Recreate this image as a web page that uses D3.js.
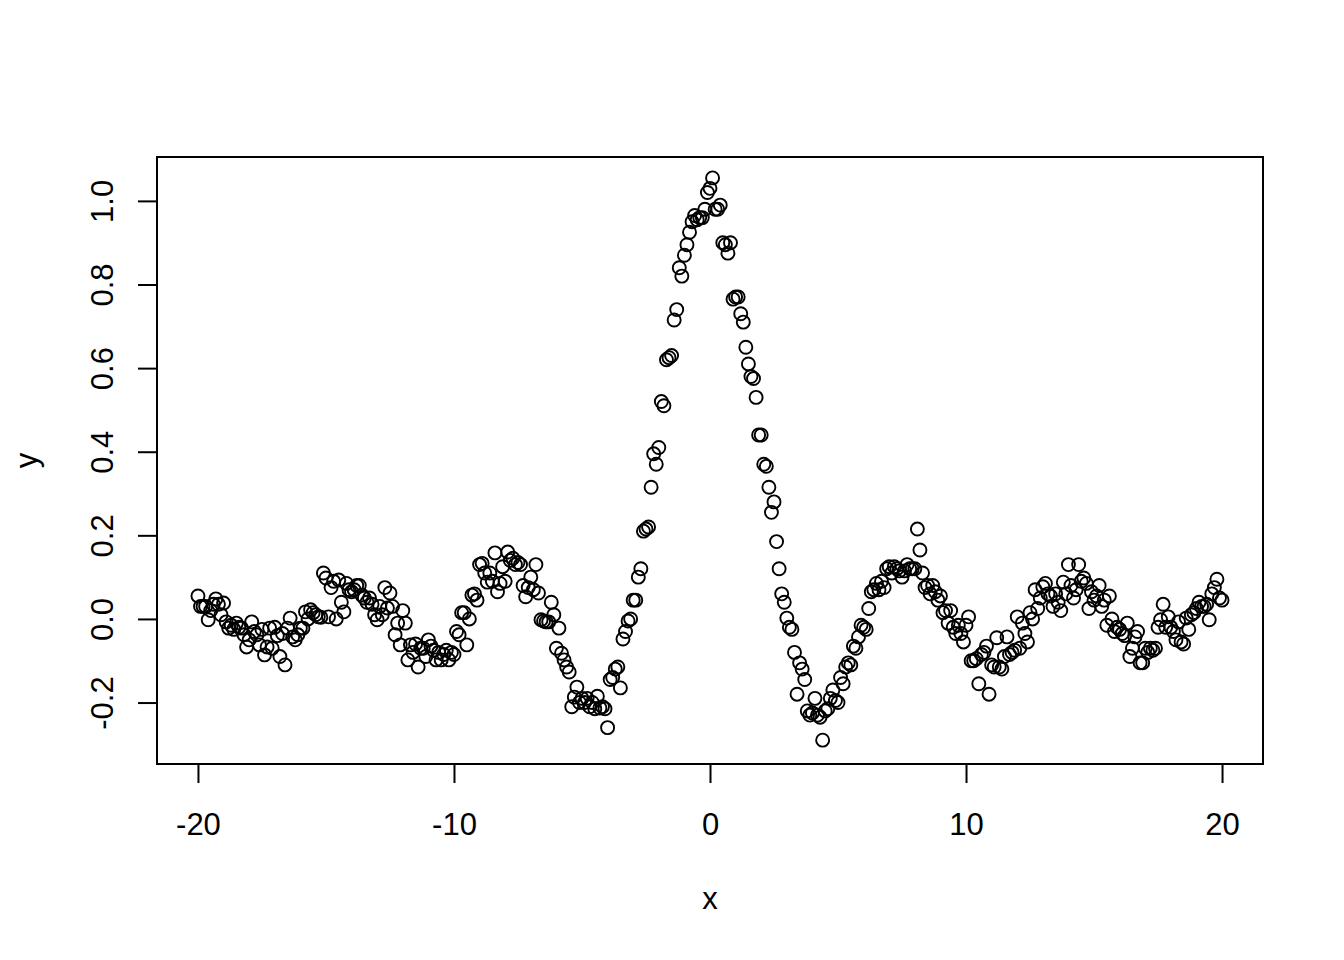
<!DOCTYPE html>
<html><head><meta charset="utf-8">
<script src="https://cdn.jsdelivr.net/npm/d3@7"></script>
<style>body{margin:0;background:#fff}svg{display:block}</style>
</head><body>
<svg id="c" width="1344" height="960"></svg>
<script>
const xs = [
-20,-19.9,-19.8,-19.7,-19.6,-19.5,-19.4,-19.3,-19.2,-19.1,
-19,-18.9,-18.8,-18.7,-18.6,-18.5,-18.4,-18.3,-18.2,-18.1,
-18,-17.9,-17.8,-17.7,-17.6,-17.5,-17.4,-17.3,-17.2,-17.1,
-17,-16.9,-16.8,-16.7,-16.6,-16.5,-16.4,-16.3,-16.2,-16.1,
-16,-15.9,-15.8,-15.7,-15.6,-15.5,-15.4,-15.3,-15.2,-15.1,
-15,-14.9,-14.8,-14.7,-14.6,-14.5,-14.4,-14.3,-14.2,-14.1,
-14,-13.9,-13.8,-13.7,-13.6,-13.5,-13.4,-13.3,-13.2,-13.1,
-13,-12.9,-12.8,-12.7,-12.6,-12.5,-12.4,-12.3,-12.2,-12.1,
-12,-11.9,-11.8,-11.7,-11.6,-11.5,-11.4,-11.3,-11.2,-11.1,
-11,-10.9,-10.8,-10.7,-10.6,-10.5,-10.4,-10.3,-10.2,-10.1,
-10,-9.9,-9.8,-9.7,-9.6,-9.5,-9.4,-9.3,-9.2,-9.1,
-9,-8.9,-8.8,-8.7,-8.6,-8.5,-8.4,-8.3,-8.2,-8.1,
-8,-7.9,-7.8,-7.7,-7.6,-7.5,-7.4,-7.3,-7.2,-7.1,
-7,-6.9,-6.8,-6.7,-6.6,-6.5,-6.4,-6.3,-6.2,-6.1,
-6,-5.9,-5.8,-5.7,-5.6,-5.5,-5.4,-5.3,-5.2,-5.1,
-5,-4.9,-4.8,-4.7,-4.6,-4.5,-4.4,-4.3,-4.2,-4.1,
-4,-3.9,-3.8,-3.7,-3.6,-3.5,-3.4,-3.3,-3.2,-3.1,
-3,-2.9,-2.8,-2.7,-2.6,-2.5,-2.4,-2.3,-2.2,-2.1,
-2,-1.9,-1.8,-1.7,-1.6,-1.5,-1.4,-1.3,-1.2,-1.1,
-1,-0.9,-0.8,-0.7,-0.6,-0.5,-0.4,-0.3,-0.2,-0.1,
0,0.1,0.2,0.3,0.4,0.5,0.6,0.7,0.8,0.9,
1,1.1,1.2,1.3,1.4,1.5,1.6,1.7,1.8,1.9,
2,2.1,2.2,2.3,2.4,2.5,2.6,2.7,2.8,2.9,
3,3.1,3.2,3.3,3.4,3.5,3.6,3.7,3.8,3.9,
4,4.1,4.2,4.3,4.4,4.5,4.6,4.7,4.8,4.9,
5,5.1,5.2,5.3,5.4,5.5,5.6,5.7,5.8,5.9,
6,6.1,6.2,6.3,6.4,6.5,6.6,6.7,6.8,6.9,
7,7.1,7.2,7.3,7.4,7.5,7.6,7.7,7.8,7.9,
8,8.1,8.2,8.3,8.4,8.5,8.6,8.7,8.8,8.9,
9,9.1,9.2,9.3,9.4,9.5,9.6,9.7,9.8,9.9,
10,10.1,10.2,10.3,10.4,10.5,10.6,10.7,10.8,10.9,
11,11.1,11.2,11.3,11.4,11.5,11.6,11.7,11.8,11.9,
12,12.1,12.2,12.3,12.4,12.5,12.6,12.7,12.8,12.9,
13,13.1,13.2,13.3,13.4,13.5,13.6,13.7,13.8,13.9,
14,14.1,14.2,14.3,14.4,14.5,14.6,14.7,14.8,14.9,
15,15.1,15.2,15.3,15.4,15.5,15.6,15.7,15.8,15.9,
16,16.1,16.2,16.3,16.4,16.5,16.6,16.7,16.8,16.9,
17,17.1,17.2,17.3,17.4,17.5,17.6,17.7,17.8,17.9,
18,18.1,18.2,18.3,18.4,18.5,18.6,18.7,18.8,18.9,
19,19.1,19.2,19.3,19.4,19.5,19.6,19.7,19.8,19.9,
20
];
const ys = [
0.055,0.03,0.03,0.03,-0.002,0.02,0.035,0.048,0.035,0.01,
0.038,-0.007,-0.022,-0.015,-0.025,-0.01,-0.02,-0.022,-0.038,-0.067,
-0.05,-0.007,-0.03,-0.038,-0.062,-0.025,-0.086,-0.067,-0.022,-0.07,
-0.02,-0.04,-0.09,-0.035,-0.11,-0.022,0.002,-0.043,-0.05,-0.038,
-0.022,-0.022,0.017,0.0,0.022,0.015,0.01,0.005,0.004,0.11,
0.098,0.005,0.075,0.09,0.0,0.093,0.04,0.017,0.085,0.07,
0.065,0.07,0.08,0.08,0.057,0.05,0.04,0.05,0.035,0.01,
-0.002,0.03,0.01,0.075,0.026,0.062,0.03,-0.038,-0.01,-0.062,
0.02,-0.01,-0.098,-0.062,-0.08,-0.06,-0.115,-0.07,-0.07,-0.09,
-0.05,-0.065,-0.075,-0.098,-0.08,-0.098,-0.085,-0.075,-0.098,-0.08,
-0.085,-0.03,-0.038,0.015,0.015,-0.062,0.0,0.057,0.06,0.045,
0.13,0.133,0.11,0.088,0.11,0.09,0.158,0.065,0.085,0.125,
0.09,0.16,0.14,0.145,0.13,0.135,0.13,0.08,0.053,0.075,
0.1,0.07,0.13,0.062,-0.002,-0.005,-0.007,-0.007,0.04,0.01,
-0.07,-0.022,-0.082,-0.098,-0.115,-0.127,-0.21,-0.187,-0.163,-0.2,
-0.19,-0.2,-0.19,-0.21,-0.2,-0.215,-0.185,-0.213,-0.21,-0.215,
-0.26,-0.145,-0.14,-0.12,-0.115,-0.165,-0.048,-0.03,-0.005,0.0,
0.045,0.045,0.1,0.12,0.21,0.215,0.22,0.315,0.395,0.37,
0.41,0.52,0.51,0.62,0.625,0.63,0.715,0.74,0.84,0.82,
0.87,0.895,0.925,0.95,0.965,0.955,0.96,0.96,0.98,1.02,
1.03,1.055,0.98,0.98,0.99,0.9,0.895,0.875,0.9,0.765,
0.77,0.77,0.73,0.71,0.65,0.61,0.58,0.575,0.53,0.44,
0.44,0.37,0.365,0.315,0.255,0.28,0.185,0.12,0.06,0.04,
0.002,-0.02,-0.025,-0.08,-0.18,-0.105,-0.12,-0.145,-0.22,-0.23,
-0.225,-0.19,-0.23,-0.235,-0.29,-0.22,-0.215,-0.19,-0.17,-0.195,
-0.2,-0.14,-0.155,-0.115,-0.105,-0.11,-0.065,-0.07,-0.043,-0.015,
-0.02,-0.025,0.025,0.065,0.07,0.085,0.07,0.09,0.075,0.12,
0.125,0.11,0.125,0.12,0.115,0.1,0.115,0.13,0.12,0.12,
0.12,0.215,0.165,0.11,0.075,0.08,0.06,0.08,0.065,0.045,
0.055,0.015,0.02,-0.01,0.02,-0.02,-0.035,-0.015,-0.035,-0.055,
-0.015,0.005,-0.1,-0.1,-0.095,-0.155,-0.085,-0.08,-0.065,-0.18,
-0.11,-0.115,-0.045,-0.115,-0.12,-0.09,-0.043,-0.085,-0.08,-0.075,
0.005,-0.07,-0.01,-0.035,-0.055,0.015,0.0,0.07,0.025,0.05,
0.077,0.085,0.06,0.055,0.03,0.06,0.04,0.02,0.088,0.06,
0.13,0.08,0.05,0.07,0.13,0.09,0.098,0.085,0.025,0.065,
0.045,0.055,0.08,0.03,0.045,-0.015,0.055,0.0,-0.03,-0.02,
-0.025,-0.035,-0.04,-0.01,-0.09,-0.07,-0.043,-0.03,-0.105,-0.105,
-0.07,-0.08,-0.07,-0.075,-0.07,-0.02,-0.002,0.035,-0.02,0.005,
-0.02,-0.03,-0.05,-0.007,-0.055,-0.06,0.002,-0.025,0.01,0.015,
0.025,0.04,0.03,0.03,0.035,-0.002,0.06,0.075,0.095,0.05,
0.045
];
const xTicks = [-20, -10, 0, 10, 20];
const xTickLabels = ["-20", "-10", "0", "10", "20"];
const yTicks = [-0.2, 0, 0.2, 0.4, 0.6, 0.8, 1.0];
const yTickLabels = ["-0.2", "0.0", "0.2", "0.4", "0.6", "0.8", "1.0"];
const xTitle = "x";
const yTitle = "y";

const FONT = "'Liberation Sans', Arial, sans-serif";
const FS = 31;
const L = 157, R = 1263, T = 157, B = 764;

const svg = d3.select("#c");
const x = d3.scaleLinear().domain([-21.6, 21.6]).range([L, R]);
const y = d3.scaleLinear().domain([-0.347, 1.105]).range([B, T]);

const data = xs.map((v, i) => ({x: v, y: ys[i]}));

// points
svg.append("g").selectAll("circle").data(data).join("circle")
  .attr("cx", d => x(d.x)).attr("cy", d => y(d.y)).attr("r", 6.5)
  .attr("fill", "none").attr("stroke", "#000").attr("stroke-width", 1.9);

// box
svg.append("rect").attr("x", L).attr("y", T).attr("width", R - L).attr("height", B - T)
  .attr("fill", "none").attr("stroke", "#000").attr("stroke-width", 2);

// x axis
const xa = svg.append("g").attr("transform", `translate(0,${B})`)
  .call(d3.axisBottom(x).tickValues(xTicks).tickFormat((d, i) => xTickLabels[i]).tickSize(19).tickPadding(30));
xa.select(".domain").attr("d", `M${x(xTicks[0])},0H${x(xTicks[xTicks.length - 1])}`).attr("stroke-width", 2);
xa.selectAll(".tick line").attr("stroke-width", 2);
xa.selectAll(".tick text").attr("font-family", FONT).attr("font-size", FS).attr("fill", "#000");

// y axis
const ya = svg.append("g").attr("transform", `translate(${L},0)`)
  .call(d3.axisLeft(y).tickValues(yTicks).tickFormat((d, i) => yTickLabels[i]).tickSize(19));
ya.select(".domain").attr("d", `M0,${y(yTicks[0])}V${y(yTicks[yTicks.length - 1])}`).attr("stroke-width", 2);
ya.selectAll(".tick line").attr("stroke-width", 2);
ya.selectAll(".tick text").attr("font-family", FONT).attr("font-size", FS).attr("fill", "#000")
  .attr("x", null).attr("dy", null).attr("text-anchor", "middle")
  .attr("transform", "translate(-44,0) rotate(-90)");

// titles
svg.append("text").attr("x", (L + R) / 2).attr("y", 909).attr("text-anchor", "middle")
  .attr("font-family", FONT).attr("font-size", FS).text(xTitle);
svg.append("text").attr("transform", `translate(37,${(T + B) / 2}) rotate(-90)`).attr("text-anchor", "middle")
  .attr("font-family", FONT).attr("font-size", FS).text(yTitle);
</script>
</body></html>
